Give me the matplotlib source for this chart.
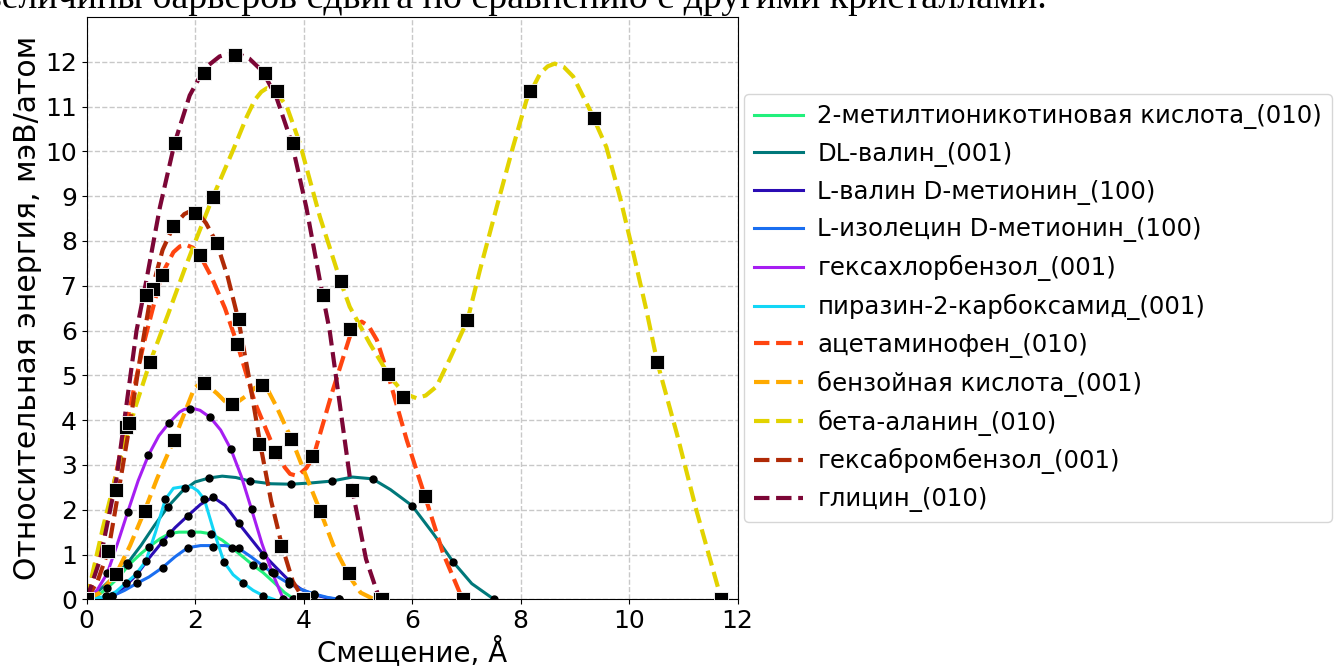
import matplotlib
matplotlib.use('Agg')
import matplotlib.pyplot as plt

# ---- сплошные линии (кривая + точки) ----
labels_solid = ['2-метилтионикотиновая кислота_(010)', 'DL-валин_(001)',
                'L-валин D-метионин_(100)', 'L-изолецин D-метионин_(100)',
                'гексахлорбензол_(001)', 'пиразин-2-карбоксамид_(001)']
colors_solid = ['#22f07c', '#00787a', '#2a0cb4', '#1a6ef0', '#a61ef2', '#12d6f6']

mtn_cx = [0, 0.2, 0.38, 0.6, 0.77, 1.0, 1.15, 1.35, 1.53, 1.7, 1.92, 2.1, 2.3, 2.5, 2.68, 2.9, 3.07, 3.25, 3.45, 3.65, 3.83]
mtn_cy = [0, 0.08, 0.25, 0.5, 0.76, 1.02, 1.17, 1.35, 1.47, 1.5, 1.5, 1.5, 1.46, 1.32, 1.15, 0.93, 0.76, 0.6, 0.38, 0.15, 0]
mtn_px = [0, 0.38, 0.77, 1.15, 1.53, 1.92, 2.30, 2.68, 3.07, 3.45, 3.83]
mtn_py = [0, 0.25, 0.76, 1.17, 1.47, 1.47, 1.46, 1.15, 0.76, 0.59, 0]

dlv_cx = [0, 0.25, 0.5, 0.75, 1.0, 1.25, 1.5, 1.75, 2.0, 2.26, 2.5, 2.75, 3.01, 3.4, 3.77, 4.15, 4.52, 4.9, 5.27, 5.6, 6.0, 6.4, 6.76, 7.1, 7.51]
dlv_cy = [0, 0.22, 0.5, 0.8, 1.2, 1.65, 2.07, 2.4, 2.62, 2.71, 2.75, 2.72, 2.64, 2.58, 2.57, 2.6, 2.64, 2.73, 2.69, 2.45, 2.09, 1.45, 0.83, 0.35, 0]
dlv_px = [0, 0.75, 1.5, 2.26, 3.01, 3.77, 4.52, 5.27, 6.0, 6.76, 7.51]
dlv_py = [0, 0.80, 2.07, 2.71, 2.64, 2.57, 2.64, 2.69, 2.09, 0.83, 0]

lvdm_cx = [0, 0.25, 0.47, 0.7, 0.93, 1.15, 1.40, 1.63, 1.86, 2.1, 2.33, 2.55, 2.80, 3.03, 3.26, 3.5, 3.73, 3.96, 4.19, 4.45, 4.66]
lvdm_cy = [0, 0.02, 0.07, 0.28, 0.56, 0.92, 1.29, 1.60, 1.86, 2.12, 2.28, 2.1, 1.70, 1.35, 1.0, 0.7, 0.42, 0.22, 0.1, 0.03, 0]
lvdm_px = [0, 0.47, 0.93, 1.40, 1.86, 2.33, 2.80, 3.26, 3.73, 4.19, 4.66]
lvdm_py = [0, 0.07, 0.56, 1.29, 1.86, 2.28, 1.70, 1.0, 0.42, 0.1, 0]

lidm_cx = [0, 0.25, 0.47, 0.7, 0.93, 1.15, 1.40, 1.63, 1.86, 2.1, 2.33, 2.55, 2.80, 3.03, 3.26, 3.5, 3.73, 3.96, 4.19, 4.45, 4.66]
lidm_cy = [0, 0.03, 0.07, 0.2, 0.36, 0.5, 0.71, 0.95, 1.15, 1.2, 1.2, 1.2, 1.14, 0.95, 0.74, 0.52, 0.35, 0.22, 0.12, 0.04, 0]
lidm_px = [0, 0.47, 0.93, 1.40, 1.86, 2.33, 2.80, 3.26, 3.73, 4.19, 4.66]
lidm_py = [0, 0.07, 0.36, 0.71, 1.15, 1.16, 1.14, 0.74, 0.35, 0.12, 0]

hcb_cx = [0, 0.19, 0.38, 0.57, 0.76, 0.95, 1.14, 1.33, 1.52, 1.71, 1.80, 1.90, 2.0, 2.09, 2.28, 2.47, 2.66, 2.85, 3.04, 3.23, 3.42, 3.6, 3.7]
hcb_cy = [0, 0.2, 0.58, 1.25, 1.96, 2.65, 3.22, 3.65, 3.94, 4.18, 4.24, 4.26, 4.25, 4.22, 4.06, 3.78, 3.35, 2.75, 2.01, 1.25, 0.6, 0.08, 0]
hcb_px = [0, 0.38, 0.76, 1.14, 1.52, 1.90, 2.28, 2.66, 3.04, 3.42, 3.80]
hcb_py = [0, 0.58, 1.96, 3.22, 3.94, 4.26, 4.06, 3.35, 2.01, 0.6, 0]

pzc_cx = [0, 0.18, 0.36, 0.54, 0.72, 0.9, 1.09, 1.27, 1.45, 1.6, 1.81, 1.95, 2.05, 2.17, 2.35, 2.53, 2.7, 2.89, 3.07, 3.26, 3.45]
pzc_cy = [0, 0.02, 0.07, 0.17, 0.36, 0.55, 0.85, 1.5, 2.23, 2.48, 2.52, 2.5, 2.42, 2.23, 1.5, 0.84, 0.55, 0.36, 0.2, 0.08, 0]
pzc_px = [0, 0.36, 0.72, 1.09, 1.45, 1.81, 2.17, 2.53, 2.89, 3.26, 3.62]
pzc_py = [0, 0.07, 0.36, 0.85, 2.23, 2.48, 2.23, 0.84, 0.36, 0.08, 0]

# ---- штриховые линии (кривая + квадраты) ----
labels_dash = ['ацетаминофен_(010)', 'бензойная кислота_(001)', 'бета-аланин_(010)',
               'гексабромбензол_(001)', 'глицин_(010)']
colors_dash = ['#ff4510', '#ffaa00', '#e2d300', '#b02a06', '#7c0636']

acet_cx = [0, 0.35, 0.72, 1.05, 1.38, 1.6, 1.72, 1.84, 1.96, 2.08, 2.3, 2.55, 2.78, 3.1, 3.44, 3.65, 3.75, 3.84, 3.93, 4.05, 4.18, 4.52, 4.85, 4.95, 5.07, 5.2, 5.35, 5.56, 5.9, 6.24, 6.57, 6.93]
acet_cy = [0, 1.7, 3.84, 5.7, 7.24, 7.75, 7.88, 7.91, 7.85, 7.7, 7.2, 6.5, 5.69, 4.4, 3.41, 2.95, 2.8, 2.77, 2.8, 2.93, 3.18, 4.6, 5.86, 6.1, 6.2, 6.1, 5.79, 5.0, 3.56, 2.29, 1.03, 0]
acet_px = [0, 0.72, 1.38, 2.09, 2.78, 3.47, 4.16, 4.85, 5.56, 6.24, 6.93]
acet_py = [0, 3.84, 7.25, 7.69, 5.69, 3.29, 3.20, 6.03, 5.02, 2.31, 0]

benz_cx = [0, 0.25, 0.55, 0.8, 1.07, 1.3, 1.61, 1.85, 1.98, 2.1, 2.22, 2.4, 2.55, 2.67, 2.8, 2.95, 3.1, 3.23, 3.35, 3.5, 3.78, 4.03, 4.3, 4.55, 4.85, 5.05, 5.3]
benz_cy = [0, 0.15, 0.58, 1.2, 1.98, 2.7, 3.56, 4.3, 4.7, 4.83, 4.78, 4.6, 4.42, 4.37, 4.42, 4.55, 4.72, 4.78, 4.65, 4.3, 3.57, 2.8, 1.99, 1.2, 0.5, 0.15, 0]
benz_px = [0, 0.55, 1.07, 1.61, 2.16, 2.68, 3.23, 3.77, 4.30, 4.84, 5.40]
benz_py = [0, 0.56, 1.98, 3.56, 4.84, 4.36, 4.78, 3.58, 1.98, 0.58, 0]

bala_cx = [0, 0.3, 0.6, 0.9, 1.17, 1.5, 1.8, 2.0, 2.33, 2.7, 2.95, 3.1, 3.22, 3.32, 3.45, 3.6, 3.69, 3.93, 4.3, 4.68, 4.85, 5.22, 5.59, 5.85, 6.08, 6.25, 6.45, 6.7, 7.02, 7.25, 7.56, 7.86, 8.11, 8.36, 8.5, 8.63, 8.8, 8.97, 9.28, 9.58, 9.83, 10.08, 10.32, 10.52, 10.88, 11.24, 11.7]
bala_cy = [0, 1.6, 3.05, 4.3, 5.3, 6.36, 7.35, 7.98, 8.99, 10.03, 10.77, 11.15, 11.33, 11.41, 11.36, 11.15, 11.0, 10.18, 8.54, 7.1, 6.53, 5.71, 4.97, 4.6, 4.49, 4.55, 4.75, 5.38, 6.23, 7.35, 8.76, 10.1, 11.15, 11.74, 11.9, 11.96, 11.88, 11.67, 10.92, 10.1, 8.99, 7.72, 6.45, 5.29, 3.7, 1.99, 0]
bala_px = [0, 1.17, 2.33, 3.51, 4.68, 5.84, 7.02, 8.18, 9.35, 10.52, 11.70]
bala_py = [0, 5.29, 8.99, 11.35, 7.10, 4.52, 6.23, 11.35, 10.74, 5.29, 0]

hbb_cx = [0, 0.2, 0.4, 0.6, 0.8, 1.0, 1.2, 1.4, 1.6, 1.8, 1.9, 2.0, 2.1, 2.2, 2.4, 2.6, 2.8, 3.0, 3.2, 3.4, 3.6, 3.8, 4.0]
hbb_cy = [0, 0.4, 1.09, 2.5, 3.94, 5.5, 6.9, 7.8, 8.33, 8.6, 8.66, 8.65, 8.55, 8.4, 7.95, 7.2, 6.23, 4.9, 3.47, 2.2, 1.2, 0.4, 0]
hbb_px = [0, 0.40, 0.78, 1.22, 1.60, 2.00, 2.41, 2.80, 3.18, 3.58, 3.99]
hbb_py = [0, 1.09, 3.94, 6.92, 8.33, 8.63, 7.95, 6.25, 3.47, 1.20, 0]

gly_cx = [0, 0.25, 0.55, 0.92, 1.09, 1.35, 1.62, 1.9, 2.17, 2.45, 2.58, 2.7, 2.85, 3.0, 3.25, 3.5, 3.78, 4.05, 4.31, 4.48, 4.85, 5.15, 5.4]
gly_cy = [0, 0.9, 2.7, 6.0, 7.05, 8.75, 10.18, 11.25, 11.85, 12.12, 12.17, 12.18, 12.15, 12.07, 11.78, 11.2, 10.2, 8.75, 7.05, 6.0, 2.74, 0.9, 0]
gly_px = [0, 0.54, 1.09, 1.62, 2.17, 2.73, 3.28, 3.81, 4.36, 4.90, 5.44]
gly_py = [0, 2.44, 6.79, 10.18, 11.75, 12.16, 11.75, 10.18, 6.79, 2.44, 0]

solid = [(mtn_cx, mtn_cy, mtn_px, mtn_py), (dlv_cx, dlv_cy, dlv_px, dlv_py),
         (lvdm_cx, lvdm_cy, lvdm_px, lvdm_py), (lidm_cx, lidm_cy, lidm_px, lidm_py),
         (hcb_cx, hcb_cy, hcb_px, hcb_py), (pzc_cx, pzc_cy, pzc_px, pzc_py)]
dashed = [(acet_cx, acet_cy, acet_px, acet_py), (benz_cx, benz_cy, benz_px, benz_py),
          (bala_cx, bala_cy, bala_px, bala_py), (hbb_cx, hbb_cy, hbb_px, hbb_py),
          (gly_cx, gly_cy, gly_px, gly_py)]

plt.rcParams['font.family'] = 'DejaVu Sans'
fig = plt.figure(figsize=(13.35, 6.68), dpi=100)
ax = fig.add_axes([0.0649, 0.1028, 0.4876, 0.8717])

for (cx, cy, px, py), lbl, c in zip(solid, labels_solid, colors_solid):
    ax.plot(cx, cy, '-', color=c, lw=2.2, label=lbl, zorder=2)
    ax.plot(px, py, 'o', color='black', ms=5, zorder=4)
for (cx, cy, px, py), lbl, c in zip(dashed, labels_dash, colors_dash):
    ax.plot(cx, cy, '--', color=c, lw=3, label=lbl, zorder=2)
    ax.plot(px, py, 's', color='black', mec='white', mew=0.6, ms=10, zorder=5)

ax.set_xlim(0, 12)
ax.set_ylim(0, 13)
ax.set_xticks(range(0, 13, 2))
ax.set_yticks(range(0, 13))
ax.tick_params(labelsize=18)
ax.grid(True, linestyle='--', color='#c8c8c8', lw=1)
ax.set_axisbelow(True)
ax.set_xlabel('Смещение, Å', fontsize=20, labelpad=2)
ax.set_ylabel('Относительная энергия, мэВ/атом', fontsize=21.5, labelpad=2)

handles, labels = ax.get_legend_handles_labels()
ax.legend(handles, labels, loc='center left', bbox_to_anchor=(1.01, 0.5), borderaxespad=0,
          fontsize=17.6, labelspacing=0.52, handlelength=2.0, handletextpad=0.6)

fig.text(-0.012, 0.988, 'величины барьеров сдвига по сравнению с другими кристаллами.',
         fontsize=27.3, family='Liberation Serif', va='baseline', ha='left')

fig.savefig('out.png', dpi=100)
